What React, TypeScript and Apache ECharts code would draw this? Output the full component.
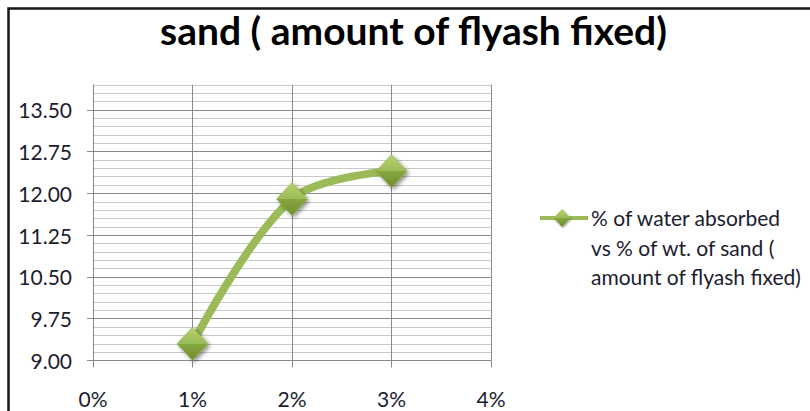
import React, { useEffect, useRef } from "react";
import * as echarts from "echarts";

// Chart texts
const titleText = "sand ( amount of flyash fixed)";
const seriesName = "% of water absorbed vs % of wt. of sand ( amount of flyash fixed)";
const legendLines = ["% of water absorbed", "vs % of wt. of sand (", "amount of flyash fixed)"];

// Data: % of wt. of sand (x) vs % of water absorbed (y)
const sandPercent = [1, 2, 3];
const waterAbsorbed = [9.3, 11.9, 12.4];

// Axis settings
const xTicks = [0, 1, 2, 3, 4];
const yMajorTicks = [9.0, 9.75, 10.5, 11.25, 12.0, 12.75, 13.5];
const yMin = 9;
const yMax = 13.95;
const yMajorStep = 0.75;
const yMinorStep = 0.15;

const FONT = "Lato, 'Open Sans', sans-serif";
const LABEL_COLOR = "#1c1c30";
const GREEN = "#9BBB59";
const MAJOR_GRID = "#8a8a8a";
const MINOR_GRID = "#c9c9c9";

const markerFill = () =>
  new echarts.graphic.LinearGradient(0, 0, 0, 1, [
    { offset: 0, color: "#b7d36b" },
    { offset: 0.5, color: "#9bbb59" },
    { offset: 0.51, color: "#86a640" },
    { offset: 1, color: "#6e8e2c" },
  ]);

export default function App() {
  const ref = useRef<HTMLDivElement>(null);

  useEffect(() => {
    if (!ref.current) return;
    const chart = echarts.init(ref.current, null, { renderer: "svg" });

    chart.setOption({
      animation: false,
      backgroundColor: "#ffffff",
      title: {
        text: titleText,
        left: 155,
        top: 5,
        textStyle: { fontFamily: FONT, fontWeight: "bold", fontSize: 39, color: "#000" },
      },
      grid: { left: 93, right: 319, top: 84.8, bottom: 50.5 },
      xAxis: {
        type: "value",
        min: xTicks[0],
        max: xTicks[xTicks.length - 1],
        interval: 1,
        axisLine: { show: true, lineStyle: { color: MAJOR_GRID, width: 1 } },
        axisTick: { show: true, length: 7, lineStyle: { color: MAJOR_GRID } },
        axisLabel: {
          formatter: "{value}%",
          margin: 27,
          fontFamily: FONT,
          fontSize: 21,
          color: LABEL_COLOR,
        },
        splitLine: { show: true, lineStyle: { color: MAJOR_GRID, width: 1 } },
      },
      yAxis: [
        {
          // minor gridlines
          type: "value",
          position: "left",
          min: yMin,
          max: yMax,
          interval: yMinorStep,
          axisLine: { show: false },
          axisTick: { show: false },
          axisLabel: { show: false },
          splitLine: { show: true, lineStyle: { color: MINOR_GRID, width: 1 } },
        },
        {
          type: "value",
          position: "left",
          min: yMin,
          max: yMax,
          interval: yMajorStep,
          axisLine: { show: true, lineStyle: { color: MAJOR_GRID, width: 1 } },
          axisTick: {
            show: true,
            length: 6,
            customValues: yMajorTicks,
            lineStyle: { color: MAJOR_GRID },
          },
          axisLabel: {
            customValues: yMajorTicks,
            formatter: (v: number) => v.toFixed(2),
            margin: 21,
            fontFamily: FONT,
            fontSize: 21,
            color: LABEL_COLOR,
          },
          splitLine: { show: true, lineStyle: { color: MAJOR_GRID, width: 1 } },
        },
      ],
      series: [
        {
          type: "line",
          name: seriesName,
          xAxisIndex: 0,
          yAxisIndex: 1,
          data: sandPercent.map((x, i) => [x, waterAbsorbed[i]]),
          smooth: 0.35,
          lineStyle: { color: GREEN, width: 8 },
          symbol: "diamond",
          symbolSize: [31, 33],
          itemStyle: {
            color: markerFill(),
            borderColor: "#8aab45",
            borderWidth: 0.5,
            shadowColor: "rgba(0,0,0,0.45)",
            shadowBlur: 4,
            shadowOffsetX: 2,
            shadowOffsetY: 2,
          },
          z: 3,
        },
      ],
      graphic: [
        {
          type: "rect",
          shape: { x: 8.5, y: 8.5, width: 900, height: 600 },
          style: { fill: "none", stroke: "#151515", lineWidth: 2.5 },
          silent: true,
        },
        {
          type: "line",
          shape: { x1: 540, y1: 218, x2: 588, y2: 218 },
          style: { stroke: GREEN, lineWidth: 4 },
        },
        {
          type: "polygon",
          shape: {
            points: [
              [562, 209],
              [570.5, 218],
              [562, 227],
              [553.5, 218],
            ],
          },
          style: {
            fill: markerFill(),
            shadowColor: "rgba(0,0,0,0.4)",
            shadowBlur: 2,
            shadowOffsetX: 1,
            shadowOffsetY: 1,
          },
        },
        {
          type: "text",
          x: 591,
          y: 203,
          style: {
            text: legendLines.join("\n"),
            font: `21px ${FONT}`,
            lineHeight: 29.5,
            fill: LABEL_COLOR,
            verticalAlign: "top",
            align: "left",
          },
        },
      ],
    });

    return () => chart.dispose();
  }, []);

  return (
    <div
      ref={ref}
      style={{ position: "fixed", left: 0, top: 0, width: 810, height: 411 }}
    />
  );
}
